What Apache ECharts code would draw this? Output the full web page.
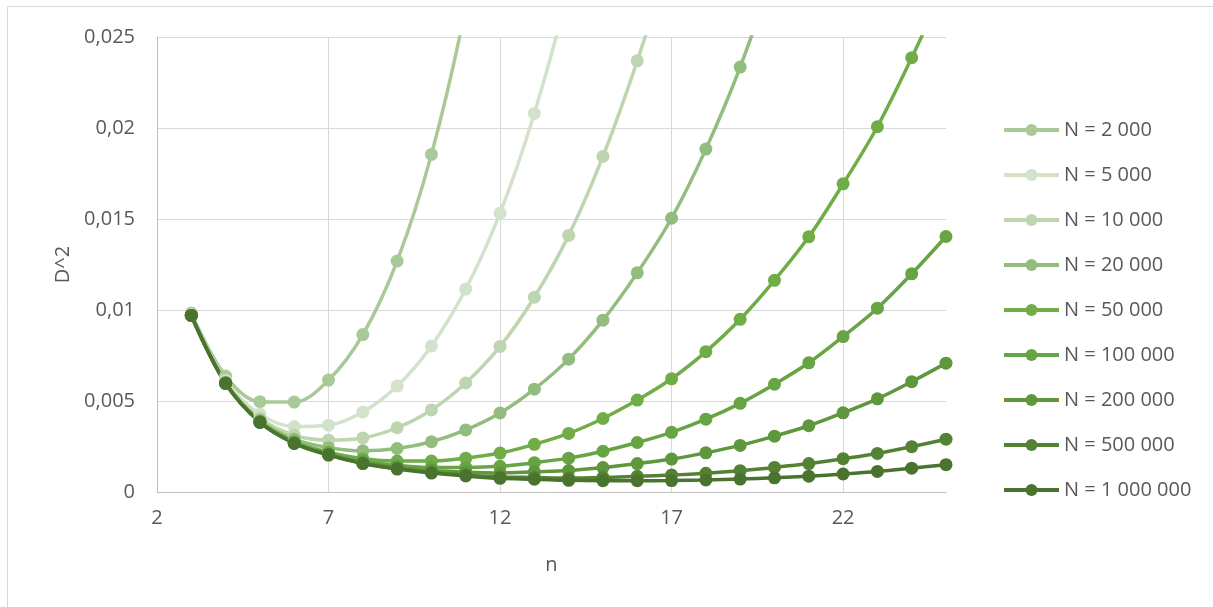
<!DOCTYPE html>
<html>
<head>
<meta charset="utf-8">
<script src="https://cdn.jsdelivr.net/npm/echarts@6/dist/echarts.min.js"></script>
<style>
html,body{margin:0;padding:0;background:#fff;}
#c{width:1213px;height:607px;}
</style>
</head>
<body>
<div id="c"></div>
<script>
// n values (x axis)
const nValues = [3,4,5,6,7,8,9,10,11,12,13,14,15,16,17,18,19,20,21,22,23,24,25];
const seriesNames = ['N = 2 000','N = 5 000','N = 10 000','N = 20 000','N = 50 000','N = 100 000','N = 200 000','N = 500 000','N = 1 000 000'];

const d2000    = [0.00983,0.00637,0.00496,0.00494,0.00615,0.00865,0.01269,0.01855,0.02663,0.0373];
const d5000    = [0.00975,0.00613,0.00428,0.00360,0.00367,0.00439,0.00582,0.00802,0.01115,0.01532,0.0208,0.0277,0.0364];
const d10000   = [0.00973,0.00605,0.00406,0.00312,0.00285,0.00297,0.00353,0.00451,0.00599,0.00800,0.0107,0.0141,0.01844,0.02369,0.02974,0.0374];
const d20000   = [0.00971,0.00601,0.00394,0.00290,0.00243,0.00226,0.00239,0.00276,0.00341,0.00434,0.00565,0.0073,0.00944,0.01204,0.01504,0.01884,0.02335,0.02876,0.03478];
const d50000   = [0.0097,0.00599,0.00388,0.00276,0.00219,0.00183,0.0017,0.0017,0.00186,0.00214,0.00262,0.00322,0.00404,0.00505,0.00622,0.00771,0.00949,0.01163,0.01402,0.01693,0.02007,0.02386,0.02797];
const d100000  = [0.0097,0.00598,0.00385,0.00272,0.0021,0.00169,0.00147,0.00135,0.00135,0.00141,0.00161,0.00186,0.00224,0.00272,0.00328,0.004,0.00487,0.00592,0.0071,0.00854,0.0101,0.01199,0.01404];
const d200000  = [0.0097,0.00597,0.00384,0.00269,0.00206,0.00162,0.00136,0.00118,0.00109,0.00105,0.00111,0.00118,0.00134,0.00156,0.00181,0.00215,0.00256,0.00307,0.00364,0.00435,0.00512,0.00606,0.00708];
const d500000  = [0.0097,0.00597,0.00383,0.00268,0.00204,0.00158,0.00129,0.00107,0.00093,0.00083,0.0008,0.00077,0.0008,0.00086,0.00093,0.00103,0.00117,0.00135,0.00156,0.00183,0.00212,0.00249,0.0029];
const d1000000 = [0.0097,0.00597,0.00383,0.00267,0.00203,0.00156,0.00126,0.00104,0.00088,0.00075,0.0007,0.00064,0.00062,0.00062,0.00063,0.00066,0.00071,0.00078,0.00087,0.00099,0.00113,0.00131,0.0015];

const seriesData = [d2000,d5000,d10000,d20000,d50000,d100000,d200000,d500000,d1000000];
const colors = ['#a9ca98','#d2e2cb','#bdd6b0','#93bd7e','#70ad47','#67a443','#5e973c','#548235','#4b7330'];

const xTicks = {min: 2, max: 25, interval: 5};
const yTicks = {min: 0, max: 0.025, interval: 0.005};

const FONT = 'Open Sans';
const TXT = '#595959';

const chart = echarts.init(document.getElementById('c'), null, {renderer: 'canvas'});

const series = seriesNames.map((name, i) => ({
  name: name,
  type: 'line',
  data: seriesData[i].map((v, k) => [nValues[k], v]),
  smooth: 0.35,
  symbol: 'circle',
  symbolSize: 13,
  showSymbol: true,
  clip: true,
  lineStyle: {width: 3.5, color: colors[i]},
  itemStyle: {color: colors[i]},
  emphasis: {disabled: true}
}));

chart.setOption({
  animation: false,
  color: colors,
  textStyle: {fontFamily: FONT},
  graphic: [{
    type: 'rect',
    shape: {x: 7.5, y: 6.5, width: 1300, height: 700},
    style: {fill: null, stroke: '#d9d9d9', lineWidth: 1},
    silent: true,
    z: -10
  }],
  grid: {left: 157, right: 267, top: 37, bottom: 115},
  xAxis: {
    type: 'value',
    min: xTicks.min, max: xTicks.max, interval: xTicks.interval,
    name: 'n',
    nameLocation: 'middle',
    nameGap: 63,
    nameTextStyle: {color: TXT, fontSize: 20, fontFamily: FONT},
    axisLine: {show: true, lineStyle: {color: '#bfbfbf', width: 1}},
    axisTick: {show: false},
    axisLabel: {color: TXT, fontSize: 20, fontFamily: FONT, margin: 16, showMaxLabel: false},
    splitLine: {show: true, showMinLine: false, showMaxLine: false, lineStyle: {color: '#d9d9d9', width: 1}}
  },
  yAxis: {
    type: 'value',
    min: yTicks.min, max: yTicks.max, interval: yTicks.interval,
    name: 'D^2',
    nameLocation: 'middle',
    nameGap: 84,
    nameRotate: 90,
    nameTextStyle: {color: TXT, fontSize: 20, fontFamily: FONT},
    axisLine: {show: true, lineStyle: {color: '#bfbfbf', width: 1}},
    axisTick: {show: false},
    axisLabel: {
      color: TXT, fontSize: 20, fontFamily: FONT, margin: 22,
      formatter: v => String(parseFloat(v.toFixed(4))).replace('.', ',')
    },
    splitLine: {show: true, lineStyle: {color: '#d9d9d9', width: 1}}
  },
  legend: {
    orient: 'vertical',
    left: 997,
    top: 115,
    itemWidth: 55,
    itemHeight: 15,
    itemGap: 25,
    lineStyle: {width: 4},
    textStyle: {color: TXT, fontSize: 20, fontFamily: FONT, lineHeight: 20, padding: [0,0,0,0]},
    data: seriesNames,
    selectedMode: false
  },
  series: series
});
</script>
</body>
</html>
